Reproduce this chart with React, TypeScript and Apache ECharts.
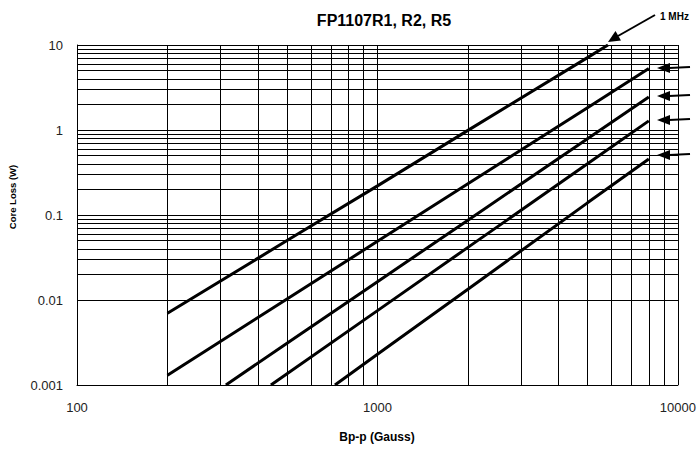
import React, { useEffect, useRef } from "react";
import * as echarts from "echarts";

// Flux density (Gauss) and core loss (W)
const series1MHz_x = [200, 500, 1000, 2000, 5000, 5850];
const series1MHz_y = [0.007, 0.05, 0.22, 0.99, 7.1, 10];
const series2_x = [200, 500, 1000, 2000, 5000, 8000];
const series2_y = [0.0013, 0.0103, 0.049, 0.233, 1.83, 5.3];
const series3_x = [313, 500, 1000, 2000, 5000, 8000];
const series3_y = [0.001, 0.0031, 0.0164, 0.087, 0.79, 2.44];
const series4_x = [442, 1000, 2000, 5000, 8000];
const series4_y = [0.001, 0.0075, 0.0416, 0.4, 1.28];
const series5_x = [722, 1000, 2000, 5000, 8000];
const series5_y = [0.001, 0.0023, 0.0134, 0.139, 0.456];

const xTickLabels = ["100", "1000", "10000"];
const yTickLabels = ["0.001", "0.01", "0.1", "1", "10"];
const xMinorGrid = [200, 300, 400, 500, 600, 700, 800, 900, 2000, 3000, 4000, 5000, 6000, 7000, 8000, 9000];
const yMinorGrid = [
  0.002, 0.003, 0.004, 0.005, 0.006, 0.007, 0.008, 0.009,
  0.02, 0.03, 0.04, 0.05, 0.06, 0.07, 0.08, 0.09,
  0.2, 0.3, 0.4, 0.5, 0.6, 0.7, 0.8, 0.9,
  2, 3, 4, 5, 6, 7, 8, 9,
];

const FONT = 'Arial, "Liberation Sans", sans-serif';

function pairs(xs: number[], ys: number[]) {
  return xs.map((x, i) => [x, ys[i]]);
}

export default function App() {
  const ref = useRef<HTMLDivElement>(null);
  useEffect(() => {
    if (!ref.current) return;
    const chart = echarts.init(ref.current, undefined, { renderer: "svg" });
    const lineStyle = { color: "#000", width: 3 };
    const gridLine = { color: "#000", width: 1, type: "solid" as const };
    const mk = (d: number[][]) => ({
      type: "line",
      data: d,
      showSymbol: false,
      symbol: "none",
      lineStyle,
      clip: true,
      silent: true,
    });
    const arrowYs = [68, 96, 120, 155];
    const g: any[] = [];
    // 1 MHz arrow
    g.push({
      type: "line",
      shape: { x1: 655, y1: 15, x2: 618, y2: 36 },
      style: { stroke: "#000", lineWidth: 2 },
    });
    g.push({
      type: "polygon",
      shape: { points: [[608, 42], [621, 40.5], [615.5, 31]] },
      style: { fill: "#000" },
    });
    g.push({
      type: "text",
      x: 660,
      y: 16,
      style: { text: "1 MHz", font: `bold 10px ${FONT}`, fill: "#000", verticalAlign: "middle", align: "left" },
    });
    arrowYs.forEach((y) => {
      g.push({
        type: "line",
        shape: { x1: 669, y1: y, x2: 690, y2: y - 1 },
        style: { stroke: "#000", lineWidth: 2 },
      });
      g.push({
        type: "polygon",
        shape: { points: [[657, y], [670, y - 5], [670, y + 5]] },
        style: { fill: "#000" },
      });
    });
    g.push({
      type: "text",
      x: 384,
      y: 20,
      style: { text: "FP1107R1, R2, R5", font: `bold 16px ${FONT}`, fill: "#000", align: "center", verticalAlign: "middle" },
    });
    g.push({
      type: "text",
      x: 377,
      y: 437,
      style: { text: "Bp-p (Gauss)", font: `bold 12px ${FONT}`, fill: "#000", align: "center", verticalAlign: "middle" },
    });
    g.push({
      type: "text",
      x: 12,
      y: 197,
      rotation: Math.PI / 2,
      style: { text: "Core Loss (W)", font: `bold 9.5px ${FONT}`, fill: "#000", align: "center", verticalAlign: "middle" },
    });

    chart.setOption({
      animation: false,
      backgroundColor: "#fff",
      grid: { left: 77, right: 21, top: 45, bottom: 66 },
      xAxis: {
        type: "log",
        logBase: 10,
        min: 100,
        max: 10000,
        splitNumber: 2,
        axisLine: { show: true, lineStyle: { color: "#000", width: 1 } },
        axisTick: { show: false },
        axisLabel: {
          margin: 16,
          fontSize: 13,
          fontFamily: FONT,
          color: "#222",
          formatter: (v: number) => xTickLabels[Math.round(Math.log10(v)) - 2] ?? "",
        },
        splitLine: { show: true, lineStyle: gridLine },
      },
      yAxis: {
        type: "log",
        logBase: 10,
        min: 0.001,
        max: 10,
        splitNumber: 4,
        axisLine: { show: true, lineStyle: { color: "#000", width: 1 } },
        axisTick: { show: false },
        axisLabel: {
          margin: 14,
          fontSize: 13,
          fontFamily: FONT,
          color: "#222",
          formatter: (v: number) => yTickLabels[Math.round(Math.log10(v)) + 3] ?? "",
        },
        splitLine: { show: true, lineStyle: gridLine },
      },
      series: [
        {
          type: "line",
          data: [],
          silent: true,
          markLine: {
            silent: true,
            symbol: "none",
            label: { show: false },
            lineStyle: gridLine,
            emphasis: { disabled: true },
            data: [
              ...xMinorGrid.map((v) => ({ xAxis: v })),
              ...yMinorGrid.map((v) => ({ yAxis: v })),
            ],
          },
        },
        mk(pairs(series1MHz_x, series1MHz_y)),
        mk(pairs(series2_x, series2_y)),
        mk(pairs(series3_x, series3_y)),
        mk(pairs(series4_x, series4_y)),
        mk(pairs(series5_x, series5_y)),
      ],
      graphic: g,
    });
    return () => chart.dispose();
  }, []);
  return (
    <div
      ref={ref}
      style={{ position: "absolute", left: 0, top: 0, width: 699, height: 451 }}
    />
  );
}
